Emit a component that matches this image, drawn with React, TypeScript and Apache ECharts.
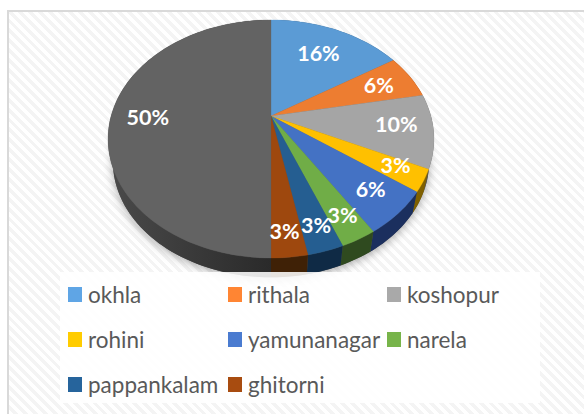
import React, { useEffect, useRef } from "react";
import * as echarts from "echarts";

const categories = ["okhla", "rithala", "koshopur", "rohini", "yamunanagar", "narela", "pappankalam", "ghitorni", ""];
const values = [16, 6, 10, 3, 6, 3, 3, 3, 50];
const topColors = ["#5B9BD5", "#ED7D31", "#A5A5A5", "#FFC000", "#4472C4", "#70AD47", "#255E91", "#9E480E", "#636363"];
const sideColors = ["#2b4d6b", "#773e18", "#525252", "#7f6000", "#1b2f5e", "#2f4a1f", "#0f2a45", "#3f2106", "#333333"];
const legendColors = ["#5FA5E5", "#FF8533", "#A9A9A9", "#FFCC00", "#4A7BD0", "#77B44A", "#26649C", "#A84C10"];
const labelNudges = [[-2, 1], [6, -2], [9, -2.5], [18, 4], [12, 6], [12, 15], [8, 18], [1, 20], [-8, 1]];
const legendCols = [68, 228, 387];
const legendRows = [283, 328, 373];

// perspective projection of the pie disc
const CX = 271, CY = 116, A = 159.9, B = 114.6, Q = 0.193;
const SHRINK = 0.97, DEPTH = 23.5;

function project(r: number, pct: number): [number, number] {
  const t = (pct / 100) * Math.PI * 2;
  const u = r * Math.sin(t);
  const v = -r * Math.cos(t);
  const w = 1 - Q * v;
  return [(A * u) / w, (B * v) / w];
}
const topPt = (r: number, pct: number): [number, number] => {
  const [x, y] = project(r, pct);
  return [CX + x, CY + y];
};
const lowPt = (pct: number): [number, number] => {
  const [x, y] = project(1, pct);
  return [CX + x * SHRINK, CY + y * SHRINK + DEPTH];
};
function rim(start: number, end: number, fn: (p: number) => [number, number]) {
  const n = Math.max(2, Math.ceil((end - start) * 2));
  const pts: [number, number][] = [];
  for (let i = 0; i <= n; i++) pts.push(fn(start + ((end - start) * i) / n));
  return pts;
}

const starts: number[] = [];
values.reduce((acc, v) => {
  starts.push(acc);
  return acc + v;
}, 0);

const sideSeries = values.map((v, i) => ({
  type: "custom",
  name: `side-${i}`,
  coordinateSystem: "none",
  silent: true,
  z: 2,
  data: [[starts[i], starts[i] + v]],
  renderItem: (_: any, api: any) => {
    const s = api.value(0), e = api.value(1);
    const upper = rim(s, e, (p) => topPt(1, p));
    const lower = rim(s, e, lowPt).reverse();
    const isLarge = i === values.length - 1;
    return {
      type: "polygon",
      shape: { points: [...upper, ...lower] },
      style: {
        fill: isLarge
          ? {
              type: "linear", x: 110, y: 0, x2: 271, y2: 0, global: true,
              colorStops: [{ offset: 0, color: "#4a4a4a" }, { offset: 1, color: "#2a2a2a" }],
            }
          : sideColors[i],
      },
    };
  },
}));

const topSeries = values.map((v, i) => ({
  type: "custom",
  name: categories[i] || "rest",
  coordinateSystem: "none",
  silent: true,
  z: 3,
  itemStyle: { color: topColors[i] },
  data: [[starts[i], starts[i] + v, v]],
  renderItem: (_: any, api: any) => {
    const s = api.value(0), e = api.value(1), val = api.value(2);
    const [lx, ly] = topPt(0.72, (s + e) / 2);
    return {
      type: "group",
      children: [
        {
          type: "polygon",
          shape: { points: [[CX, CY], ...rim(s, e, (p) => topPt(1, p))] },
          style: { fill: topColors[i], stroke: topColors[i], lineWidth: 0.3 },
        },
        {
          type: "text",
          z2: 10,
          style: {
            text: `${val}%`,
            x: lx + labelNudges[i][0],
            y: ly + labelNudges[i][1],
            fill: "#ffffff",
            font: "bold 21.5px Lato",
            align: "center",
            verticalAlign: "middle",
          },
        },
      ],
    };
  },
}));

const shadowSeries = {
  type: "custom",
  name: "shadow",
  coordinateSystem: "none",
  silent: true,
  z: 1,
  data: [[0, 100]],
  renderItem: (_: any, api: any) => ({
    type: "polygon",
    shape: { points: rim(api.value(0), api.value(1), lowPt) },
    style: { fill: "#555555", shadowBlur: 10, shadowColor: "rgba(0,0,0,0.35)", shadowOffsetY: 2 },
  }),
};

const legends = categories.slice(0, 8).map((name, i) => ({
  show: true,
  left: legendCols[i % 3],
  top: legendRows[Math.floor(i / 3)],
  padding: 0,
  z: 10,
  icon: "rect",
  itemWidth: 14,
  itemHeight: 15,
  selectedMode: false,
  data: [name],
  itemStyle: { color: legendColors[i] },
  textStyle: { color: "#595959", fontFamily: "Lato", fontSize: 22.5, padding: [0, 0, 0, 1] },
}));

export default function App() {
  const ref = useRef<HTMLDivElement>(null);
  useEffect(() => {
    const chart = echarts.init(ref.current!, null, { renderer: "svg" });
    chart.setOption({
      animation: false,
      backgroundColor: "transparent",
      legend: legends,
      graphic: {
        elements: [
          {
            type: "rect",
            z: 5,
            silent: true,
            shape: { x: 60, y: 272, width: 480, height: 131 },
            style: { fill: "rgba(255,255,255,0.87)" },
          },
        ],
      },
      series: [shadowSeries, ...sideSeries, ...topSeries],
    });
    return () => chart.dispose();
  }, []);
  return (
    <div style={{ position: "absolute", left: 0, top: 0, width: 584, height: 414, background: "#fff", overflow: "hidden" }}>
      <div
        style={{
          position: "absolute", left: 7, top: 10, width: 577, height: 404,
          boxSizing: "border-box",
          borderLeft: "2px solid #d9d9d9", borderTop: "2px solid #d9d9d9",
          background: "repeating-linear-gradient(45deg, #ffffff 0 3.5px, #f4f4f4 3.5px 7px)",
        }}
      />
      <div ref={ref} style={{ position: "absolute", left: 0, top: 0, width: 584, height: 414 }} />
    </div>
  );
}
